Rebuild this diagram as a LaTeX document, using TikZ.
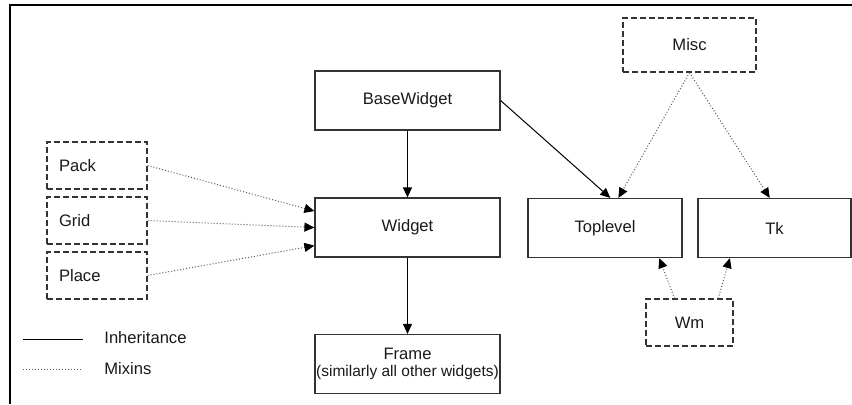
\documentclass[tikz,border=0pt]{standalone}
\usepackage{fontspec}
\setmainfont{Liberation Sans}
\usetikzlibrary{arrows.meta}

\tikzset{
  lbl/.style={font=\fontsize{8.3}{9.8}\selectfont, text=black!90},
  cls/.style={lbl, draw=black!80, line width=0.6pt, inner sep=0pt,
    minimum width=92.5pt, minimum height=29.5pt},
  mixin/.style={cls, dash pattern=on 2.8pt off 1.7pt},
  inherit/.style={line width=0.5pt,
    -{Triangle[length=5pt, width=4.5pt, black]}},
  mixes/.style={inherit, draw=black!65, densely dotted},
}

\begin{document}
\begin{tikzpicture}[x=0.5pt, y=-0.5pt]
  \useasboundingbox (0,0) rectangle (852,404);
  \draw[line width=0.9pt] (10,404) -- (10,5) -- (852,5);

  % classes
  \node[cls] (BaseWidget) at (407.5,100.5) {BaseWidget};
  \node[cls] (Widget) at (407.5,227.5) {Widget};
  \node[cls, align=center] (Frame) at (407.5,364)
    {Frame\\[-1pt]{\fontsize{7.75}{9}\selectfont (similarly all other widgets)}};
  \node[cls, minimum width=77pt] (Toplevel) at (605,228) {Toplevel};
  \node[cls, minimum width=76.5pt] (Tk) at (774.5,228) {Tk};

  % mixins
  \node[mixin, minimum width=66.5pt, minimum height=27pt] (Misc) at (689.5,45) {Misc};
  \node[mixin, minimum width=43.5pt, minimum height=23.5pt] (Wm) at (689.5,322.5) {Wm};
  \foreach \cls/\y in {Pack/165.5, Grid/220.5, Place/275.5}
    \node[mixin, minimum width=0pt, minimum height=23.5pt, inner xsep=6pt,
      text width=38pt, align=left] (\cls) at (97,\y) {\cls};

  % inheritance
  \draw[inherit] (BaseWidget) -- (Widget);
  \draw[inherit] (Widget) -- (Frame);
  \draw[inherit] (BaseWidget.east) -- (Toplevel.80);

  % mixing in
  \foreach \cls/\a in {Pack/170, Grid/180, Place/191}
    \draw[mixes] (\cls.east) -- (Widget.\a);
  \draw[mixes] (Misc.south) -- (Toplevel.66);
  \draw[mixes] (Misc.south) -- (Tk.99);
  \draw[mixes] (Wm.122) -- (Toplevel.-29);
  \draw[mixes] (Wm.40) -- (Tk.214);

  % legend
  \node[lbl, anchor=west, inner sep=0pt] (inh) at (104,338) {Inheritance};
  \node[lbl, anchor=west, inner sep=0pt] (mix) at (104,369) {Mixins};
  \coordinate (inhA) at (23,339);
  \coordinate (inhB) at (83,339);
  \coordinate (mixA) at (23,369);
  \coordinate (mixB) at (83,369);
  \draw[line width=0.5pt] (inhA) -- (inhB);
  \draw[draw=black!65, line width=0.5pt, densely dotted] (mixA) -- (mixB);
\end{tikzpicture}
\end{document}
